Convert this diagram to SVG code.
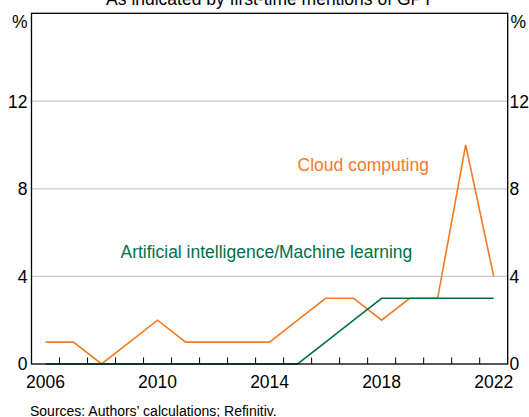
<svg xmlns="http://www.w3.org/2000/svg" width="529" height="417" viewBox="0 0 529 417">
<style>
text{font-family:"Liberation Sans",Arial,sans-serif;font-size:17.5px;fill:#000}
.l{text-anchor:end}
.m{text-anchor:middle}
.grid{stroke:#c8c8c8;stroke-width:1.2;fill:none}
.axis{stroke:#000;stroke-width:1.3;fill:none}
.tick{stroke:#000;stroke-width:1;fill:none}
.cc{stroke:#f57a26;stroke-width:1.6;fill:none;stroke-linejoin:miter}
.ai{stroke:#00704a;stroke-width:1.6;fill:none}
</style>
<rect width="529" height="417" fill="#fff"/>
<text id="title" x="269.5" y="5" class="m">As indicated by first-time mentions of GPT</text>
<g id="grid">
<line class="grid" x1="31.5" y1="276.4" x2="507.7" y2="276.4"/>
<line class="grid" x1="31.5" y1="188.8" x2="507.7" y2="188.8"/>
<line class="grid" x1="31.5" y1="101.2" x2="507.7" y2="101.2"/>
</g>
<g id="series">
<polyline id="cloud" class="cc" points="45.51,342.1 73.52,342.1 101.53,364 129.54,342.1 157.55,320.2 185.57,342.1 213.58,342.1 241.59,342.1 269.6,342.1 297.61,320.2 325.62,298.3 353.63,298.3 381.65,320.2 409.66,298.3 437.67,298.3 465.68,145 493.69,276.4"/>
<polyline id="aiml" class="ai" points="45.51,364 297.61,364 325.62,342.1 353.63,320.2 381.65,298.3 493.69,298.3"/>
</g>
<g id="frame">
<rect class="axis" x="31.5" y="13.3" width="476.2" height="350.7"/>
<path class="tick" d="M59.51,364v-6.5M87.52,364v-6.5M115.54,364v-6.5M143.55,364v-6.5M171.56,364v-6.5M199.57,364v-6.5M227.58,364v-6.5M255.6,364v-6.5M283.61,364v-6.5M311.62,364v-6.5M339.63,364v-6.5M367.64,364v-6.5M395.66,364v-6.5M423.67,364v-6.5M451.68,364v-6.5M479.69,364v-6.5"/>
</g>
<g id="yleft">
<text class="l" x="27.5" y="28">%</text>
<text class="l" x="27.5" y="107.5">12</text>
<text class="l" x="27.5" y="195.1">8</text>
<text class="l" x="27.5" y="282.7">4</text>
<text class="l" x="27.5" y="370.3">0</text>
</g>
<g id="yright">
<text x="510.5" y="28">%</text>
<text x="509.5" y="107.5">12</text>
<text x="509.5" y="195.1">8</text>
<text x="509.5" y="282.7">4</text>
<text x="509.5" y="370.3">0</text>
</g>
<g id="xaxis">
<text class="m" x="45.5" y="387.5">2006</text>
<text class="m" x="157.5" y="387.5">2010</text>
<text class="m" x="269.6" y="387.5">2014</text>
<text class="m" x="381.6" y="387.5">2018</text>
<text class="m" x="493.7" y="387.5">2022</text>
</g>
<g id="labels">
<text x="297.6" y="170.6" style="fill:#f57a26">Cloud computing</text>
<text x="120.5" y="258" style="fill:#00704a">Artificial intelligence/Machine learning</text>
</g>
<text id="source" x="30" y="415.5" style="font-size:14px">Sources: Authors’ calculations; Refinitiv.</text>
</svg>
